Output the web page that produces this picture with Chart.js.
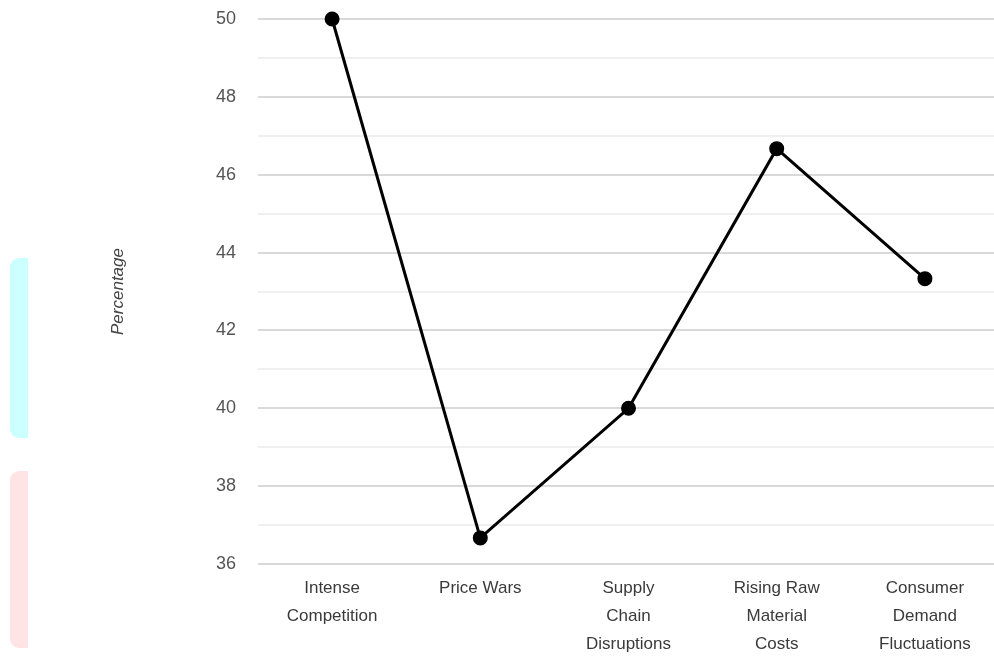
<!DOCTYPE html>
<html lang="en">
<head>
  <meta charset="UTF-8">
  <title>Percentage by challenge</title>
  <script src="https://cdn.jsdelivr.net/npm/chart.js@4.4.1/dist/chart.umd.min.js"></script>
  <style>
    html, body { margin: 0; padding: 0; background: #fff; overflow: hidden; }
    .wrap { position: relative; width: 1008px; height: 657px; }
    .band { position: absolute; left: 10px; width: 18px; border-radius: 9px 0 0 9px; }
    .band-cyan { top: 258px; height: 180px; background: #ccffff; }
    .band-pink { top: 471px; height: 177px; background: #ffe4e6; }
  </style>
</head>
<body>
  <div class="wrap">
    <div class="band band-cyan"></div>
    <div class="band band-pink"></div>
    <canvas id="chart" width="1008" height="657"></canvas>
  </div>

  <script>
    const categories = [
      ['Intense', 'Competition'],
      ['Price Wars'],
      ['Supply', 'Chain', 'Disruptions'],
      ['Rising Raw', 'Material', 'Costs'],
      ['Consumer', 'Demand', 'Fluctuations']
    ];
    const percentages = [50, 36.67, 40, 46.67, 43.33];
    const yMin = 36;
    const yMax = 50;

    const ctx = document.getElementById('chart').getContext('2d');
    new Chart(ctx, {
      type: 'line',
      data: {
        labels: categories,
        datasets: [{
          label: 'Percentage',
          data: percentages,
          borderColor: '#000',
          backgroundColor: '#000',
          borderWidth: 3,
          pointRadius: 6,
          pointHoverRadius: 6,
          tension: 0,
          fill: false,
          clip: false
        }]
      },
      options: {
        responsive: false,
        animation: false,
        layout: { padding: { top: 19, right: 0, left: 0, bottom: 0 } },
        plugins: {
          legend: { display: false },
          tooltip: { enabled: false }
        },
        scales: {
          x: {
            offset: true,
            grid: { display: false },
            border: { display: false },
            ticks: {
              color: '#3a3a3a',
              padding: 2,
              maxRotation: 0,
              autoSkip: false,
              font: { family: '"Liberation Sans", Arial, sans-serif', size: 17, lineHeight: 1.65 }
            },
            afterFit: (scale) => { scale.height = 93; }
          },
          y: {
            min: yMin,
            max: yMax,
            border: { display: false },
            grid: {
              drawTicks: false,
              lineWidth: 2,
              color: (c) => (c.tick && c.tick.value % 2 === 0) ? '#d9d9d9' : '#efefef'
            },
            ticks: {
              stepSize: 1,
              padding: 22,
              color: '#555',
              font: { family: '"Liberation Sans", Arial, sans-serif', size: 18 },
              callback: (v) => (v % 2 === 0 ? v : '')
            },
            title: {
              display: true,
              text: 'Percentage',
              color: '#444',
              padding: { top: 108, bottom: 0 },
              font: { family: '"Liberation Sans", Arial, sans-serif', size: 17, style: 'italic' }
            },
            afterFit: (scale) => {
              scale.width = 258;
              scale.paddingTop = 0;
              scale.paddingBottom = 0;
            }
          }
        }
      }
    });
  </script>
</body>
</html>
